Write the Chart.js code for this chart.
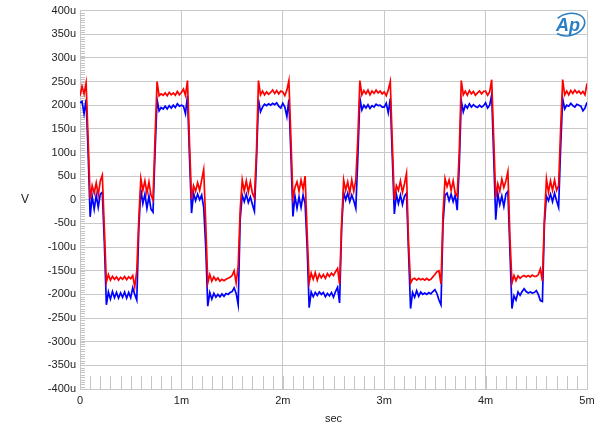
<!DOCTYPE html>
<html>
<head>
<meta charset="utf-8">
<script src="https://cdn.jsdelivr.net/npm/chart.js@4"></script>
<style>
  html, body { margin: 0; padding: 0; background: #fff; }
</style>
</head>
<body>
<canvas id="scope" width="600" height="434"></canvas>
<script>
// Scope capture, one sample every 0.02 ms, values in microvolts
const SAMPLE_MS = 0.02;

const redUV = [
    // 0 - 1 ms
    220, 240, 224, 247, 130, 2, 30, 14, 36, 10, 40, 52, -60, -174, -158, -170, -162, -168, -163, -170,
    -164, -168, -162, -169, -163, -167, -160, -184, -150, -40, 45, 20, 40, 14, 38, 10, 0, 130, 250, 220,
    224, 221, 226, 220, 227, 222, 226, 221, 229, 222,
    // 1 - 2 ms
    227, 234, 221, 252, 120, 2, 30, 18, 36, 20, 42, 64, -50, -176, -158, -172, -163, -170, -165, -172,
    -168, -171, -168, -166, -164, -160, -150, -176, -140, -20, 42, 18, 40, 16, 38, 14, 4, 100, 252, 222,
    230, 222, 228, 223, 227, 232, 225, 231, 224, 230,
    // 2 - 3 ms
    228, 220, 232, 252, 130, 4, 26, 38, 18, 42, 22, 50, -70, -175, -155, -168, -154, -170, -157, -165,
    -158, -166, -156, -162, -155, -160, -152, -145, -178, -50, 42, 20, 38, 14, 42, 18, 42, 130, 252, 222,
    231, 224, 232, 222, 230, 225, 232, 226, 230, 224,
    // 3 - 4 ms
    228, 220, 232, 250, 120, 0, 30, 20, 40, 16, 34, 56, -90, -176, -168, -166, -170, -166, -169, -167,
    -170, -166, -170, -168, -163, -158, -152, -150, -178, -30, 45, 28, 42, 20, 40, 14, 8, 100, 252, 222,
    230, 221, 231, 224, 229, 221, 226, 230, 224, 229,
    // 4 - 5 ms
    230, 221, 228, 254, 130, 4, 34, 18, 44, 26, 40, 60, -80, -176, -160, -171, -161, -166, -162, -160,
    -163, -160, -163, -159, -162, -162, -158, -146, -172, -40, 44, 16, 40, 20, 42, 20, 30, 150, 254, 222,
    230, 222, 231, 225, 232, 226, 230, 224, 229, 222,
    246
];

const blueUV = [
    // 0 - 1 ms
    205, 208, 182, 212, 100, -36, 8, -20, 10, -16, 12, 16, -90, -222, -195, -210, -194, -207, -196, -208,
    -197, -206, -195, -208, -196, -207, -186, -200, -212, -60, 22, -8, 12, -18, 8, -20, -26, 100, 212, 188,
    195, 192, 198, 192, 199, 194, 200, 195, 203, 198,
    // 1 - 2 ms
    200, 198, 182, 220, 90, -28, 14, -2, 12, 0, 10, -16, -100, -225, -196, -210, -198, -206, -200, -205,
    -199, -204, -198, -200, -196, -194, -186, -198, -222, -40, 10, -4, 12, -6, 6, -10, -24, 80, 212, 186,
    196, 202, 199, 203, 200, 204, 201, 205, 198, 194,
    // 2 - 3 ms
    204, 196, 176, 212, 95, -35, 8, -18, 6, -16, 10, -8, -100, -228, -195, -205, -196, -202, -195, -200,
    -196, -205, -198, -203, -196, -206, -194, -185, -218, -60, 16, 0, 14, -4, 10, -2, -18, 90, 215, 190,
    200, 194, 201, 193, 199, 196, 202, 199, 200, 196,
    // 3 - 4 ms
    196, 204, 184, 214, 90, -30, 12, -8, 10, -10, 8, 14, -110, -230, -196, -206, -192, -204, -195, -200,
    -197, -200, -196, -199, -194, -190, -198, -212, -222, -50, 10, 14, -2, 12, -4, 10, -22, 70, 210, 186,
    200, 194, 203, 196, 201, 197, 195, 200, 196, 199,
    // 4 - 5 ms
    205, 194, 200, 222, 90, -42, 14, -10, 8, -14, 12, 18, -110, -230, -203, -212, -195, -202, -194, -188,
    -194, -197, -195, -197, -196, -192, -200, -213, -215, -50, 8, -2, 12, -4, 14, -2, -16, 110, 214, 192,
    200, 198, 204, 199, 196, 202, 200, 198, 188, 194,
    206
];

const X_MIN_MS = 0, X_MAX_MS = 5, X_STEP_MS = 1;
const Y_MIN_UV = -400, Y_MAX_UV = 400, Y_STEP_UV = 50;

const FONT = { family: "'Liberation Sans', Arial, sans-serif", size: 11 };
const GRID = '#c8c8c8';

const toPoints = vals => vals.map((v, i) => ({ x: +(i * SAMPLE_MS).toFixed(2), y: v }));

// minor ticks, the "V" label and the AP badge
const decor = {
    id: 'decor',
    beforeDatasetsDraw(chart) {
        const { ctx, chartArea: a, scales: { x, y } } = chart;
        ctx.save();
        ctx.strokeStyle = '#c4c4c4';
        ctx.lineWidth = 1;
        ctx.beginPath();
        for (let m = 1; m < (X_MAX_MS - X_MIN_MS) * 10; m++) {
            const px = Math.round(x.getPixelForValue(X_MIN_MS + m / 10)) + 0.5;
            ctx.moveTo(px, a.bottom);
            ctx.lineTo(px, a.bottom - 13);
        }
        for (let u = Y_MIN_UV + 5; u < Y_MAX_UV; u += 5) {
            const py = Math.round(y.getPixelForValue(u)) + 0.5;
            ctx.moveTo(a.left, py);
            ctx.lineTo(a.left + 5, py);
        }
        ctx.stroke();
        ctx.restore();
    },
    afterDraw(chart) {
        const { ctx, chartArea: a } = chart;
        ctx.save();
        ctx.fillStyle = '#222';
        ctx.font = `12px ${FONT.family}`;
        ctx.textAlign = 'center';
        ctx.textBaseline = 'middle';
        ctx.fillText('V', 25, (a.top + a.bottom) / 2);

        // AP badge
        const cx = a.right - 18, cy = a.top + 14;
        ctx.strokeStyle = '#2a7fc4';
        ctx.lineWidth = 1.6;
        ctx.beginPath();
        ctx.ellipse(cx, cy, 16, 11, -0.25, -2.2, 2.6);
        ctx.stroke();
        ctx.fillStyle = '#2a7fc4';
        ctx.font = `italic bold 18px ${FONT.family}`;
        ctx.fillText('Ap', cx - 1, cy + 1);
        ctx.restore();
    }
};

new Chart(document.getElementById('scope'), {
    type: 'line',
    data: {
        datasets: [
            {
                label: 'Ch 1',
                data: toPoints(redUV),
                borderColor: '#ff0000',
                borderWidth: 1.7,
                pointRadius: 0,
                tension: 0,
                order: 1
            },
            {
                label: 'Ch 2',
                data: toPoints(blueUV),
                borderColor: '#0000ff',
                borderWidth: 1.7,
                pointRadius: 0,
                tension: 0,
                order: 2
            }
        ]
    },
    options: {
        responsive: false,
        animation: false,
        layout: { padding: { top: 10, right: 13, left: 0, bottom: 0 } },
        plugins: { legend: { display: false }, tooltip: { enabled: false } },
        scales: {
            x: {
                type: 'linear',
                min: X_MIN_MS,
                max: X_MAX_MS,
                grid: { color: GRID, drawTicks: false },
                border: { color: GRID },
                ticks: {
                    stepSize: X_STEP_MS,
                    padding: 5,
                    color: '#222',
                    font: FONT,
                    maxRotation: 0,
                    callback: v => v === 0 ? '0' : v + 'm'
                },
                title: { display: true, text: 'sec', color: '#222', font: FONT, padding: { top: 4, bottom: 8 } },
                afterFit: s => { s.height = 45; }
            },
            y: {
                min: Y_MIN_UV,
                max: Y_MAX_UV,
                grid: { color: GRID, drawTicks: false },
                border: { color: GRID },
                ticks: {
                    stepSize: Y_STEP_UV,
                    padding: 4,
                    color: '#222',
                    font: FONT,
                    callback: v => v === 0 ? '0' : v + 'u'
                },
                afterFit: s => { s.width = 80; }
            }
        }
    },
    plugins: [decor]
});
</script>
</body>
</html>
